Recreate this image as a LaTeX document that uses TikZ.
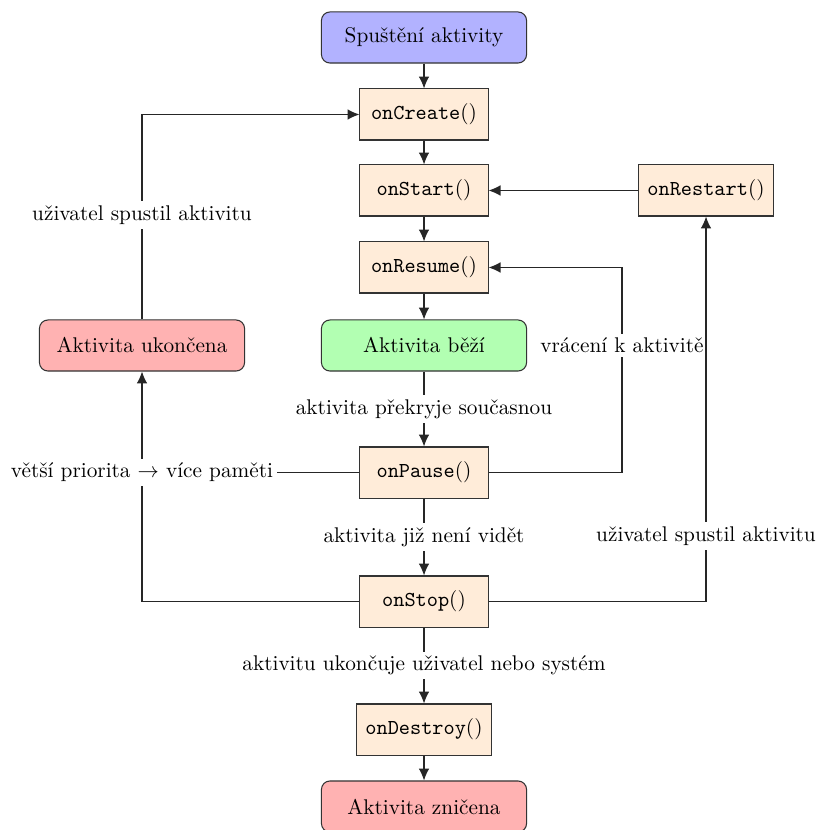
\documentclass[tikz,border=0pt]{standalone}
\usetikzlibrary{arrows.meta}
\begin{document}
\begin{tikzpicture}[x=0.47pt,y=-0.47pt,
  every node/.style={font=\normalsize},
  method/.style={draw=black!80,fill=orange!15,minimum width=60.2pt,minimum height=24pt,inner xsep=4pt,line width=0.5pt},
  state/.style={draw=black!80,rounded corners=4pt,minimum width=96.4pt,minimum height=24pt,line width=0.5pt},
  edge/.style={draw=black!85,line width=0.5pt,-{Latex[length=5.6pt,width=5pt]}},
  plain/.style={draw=black!85,line width=0.5pt},
  lbl/.style={fill=white,inner sep=2pt}]
\useasboundingbox (0,0) rectangle (817,830);
\node[state,fill=blue!30] (start) at (424,37.5) {Spuštění aktivity};
\node[method] (create) at (424,114.5) {\texttt{onCreate}()};
\node[method] (startm) at (424,190.5) {\texttt{onStart}()};
\node[method] (restart) at (706,190.5) {\texttt{onRestart}()};
\node[method] (resume) at (424,267.5) {\texttt{onResume}()};
\node[state,fill=green!30] (run) at (424,345.5) {Aktivita běží};
\node[state,fill=red!30] (killed) at (142,345.5) {Aktivita ukončena};
\node[method] (pause) at (424,472.5) {\texttt{onPause}()};
\node[method] (stop) at (424,601.5) {\texttt{onStop}()};
\node[method] (destroy) at (424,729.5) {\texttt{onDestroy}()};
\node[state,fill=red!30] (dead) at (424,806.5) {Aktivita zničena};

\coordinate (cl) at (142,114.5);
\coordinate (cp) at (142,472.5);
\coordinate (cs) at (142,601.5);
\coordinate (rp) at (622,472.5);
\coordinate (rr) at (622,267.5);
\coordinate (ss) at (706,601.5);

\draw[edge] (start) -- (create);
\draw[edge] (create) -- (startm);
\draw[edge] (startm) -- (resume);
\draw[edge] (resume) -- (run);
\draw[edge] (run) -- node[lbl] {aktivita překryje současnou} (pause);
\draw[edge] (pause) -- node[lbl] {aktivita již není vidět} (stop);
\draw[edge] (stop) -- node[lbl] {aktivitu ukončuje uživatel nebo systém} (destroy);
\draw[edge] (destroy) -- (dead);
\draw[edge] (restart) -- (startm);
\draw[edge] (pause.east) -- (rp) -- node[lbl,pos=0.62] {vrácení k aktivitě} (rr) -- (resume.east);
\draw[edge] (stop.east) -- (ss) -- node[lbl,pos=0.17] {uživatel spustil aktivitu} (restart.south);
\draw[edge] (stop.west) -- (cs) -- (killed.south);
\draw[plain] (pause.west) -- (cp);
\node[lbl] (prio) at (cp) {větší priorita $\rightarrow$ více paměti};
\draw[edge] (killed.north) -- node[lbl,pos=0.51] {uživatel spustil aktivitu} (cl) -- (create.west);
\end{tikzpicture}
\end{document}
